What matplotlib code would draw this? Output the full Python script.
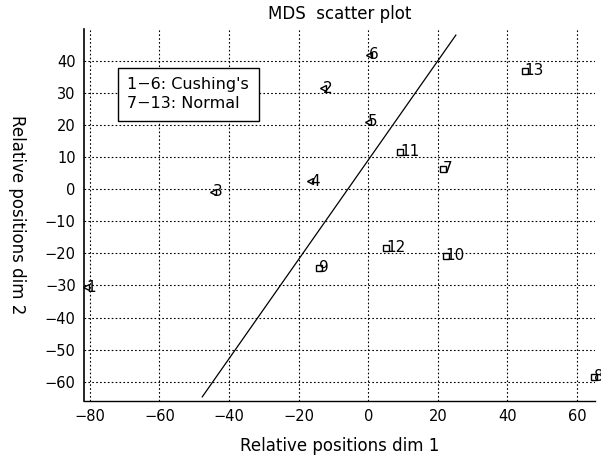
import matplotlib
matplotlib.use("Agg")
import matplotlib.pyplot as plt

# Data
labels = ["1", "2", "3", "4", "5", "6", "7", "8", "9", "10", "11", "12", "13"]
dim1 = [-81.0, -13.0, -44.6, -16.6, 0.0, 0.2, 21.4, 64.9, -14.1, 22.3, 9.1, 5.1, 45.0]
dim2 = [-30.5, 31.4, -0.8, 2.5, 21.0, 41.8, 6.3, -58.4, -24.5, -20.7, 11.6, -18.3, 36.9]
groups = ["C", "C", "C", "C", "C", "C", "N", "N", "N", "N", "N", "N", "N"]
line_x = [-47.7, 25.2]
line_y = [-64.7, 48.0]
xticks = [-80, -60, -40, -20, 0, 20, 40, 60]
yticks = [-60, -50, -40, -30, -20, -10, 0, 10, 20, 30, 40]

plt.rcParams['font.family'] = ['DejaVu Sans']
fig = plt.figure(figsize=(6.01, 4.62), dpi=100)
ax = fig.add_axes([84/601, 1-401/462, (595-84)/601, (401-29)/462])

ax.set_xlim(-81.7, 65.2)
ax.set_ylim(-66.0, 49.9)
ax.set_xticks(xticks)
ax.set_yticks(yticks)
ax.grid(True, color='black', linestyle=(0, (1.5, 2)), linewidth=0.8)
ax.set_axisbelow(True)
ax.tick_params(direction='in', length=0, labelsize=10.5, pad=6)
for s in ['top', 'right']:
    ax.spines[s].set_visible(False)
ax.spines['left'].set_linewidth(1.2)
ax.spines['bottom'].set_linewidth(1.0)

for x, y, g, lab in zip(dim1, dim2, groups, labels):
    m = '<' if g == "C" else 's'
    ax.plot([x], [y], marker=m, markersize=5, markerfacecolor='white',
            markeredgecolor='black', markeredgewidth=1.0, linestyle='none', clip_on=False, zorder=3)
    ax.text(x, y, lab, fontsize=11, ha='left', va='center', zorder=4, clip_on=False)

ax.plot(line_x, line_y, color='black', linewidth=0.9, zorder=2)

ax.text(-51.7, 29.6, "1\u22126: Cushing's\n7\u221213: Normal", fontsize=11.5, ha='center', va='center',
        linespacing=1.3, multialignment='left',
        bbox=dict(boxstyle='square,pad=0.6', facecolor='white', edgecolor='black', linewidth=1.0),
        zorder=5)

ax.set_title("MDS  scatter plot", fontsize=12, pad=7)
ax.set_xlabel("Relative positions dim 1", fontsize=12, labelpad=9)
ax.set_ylabel("Relative positions dim 2", fontsize=12, rotation=270, va='center', ha='center')
ax.yaxis.set_label_coords((17-84)/511, 0.5)

fig.savefig("out.png", dpi=100)
